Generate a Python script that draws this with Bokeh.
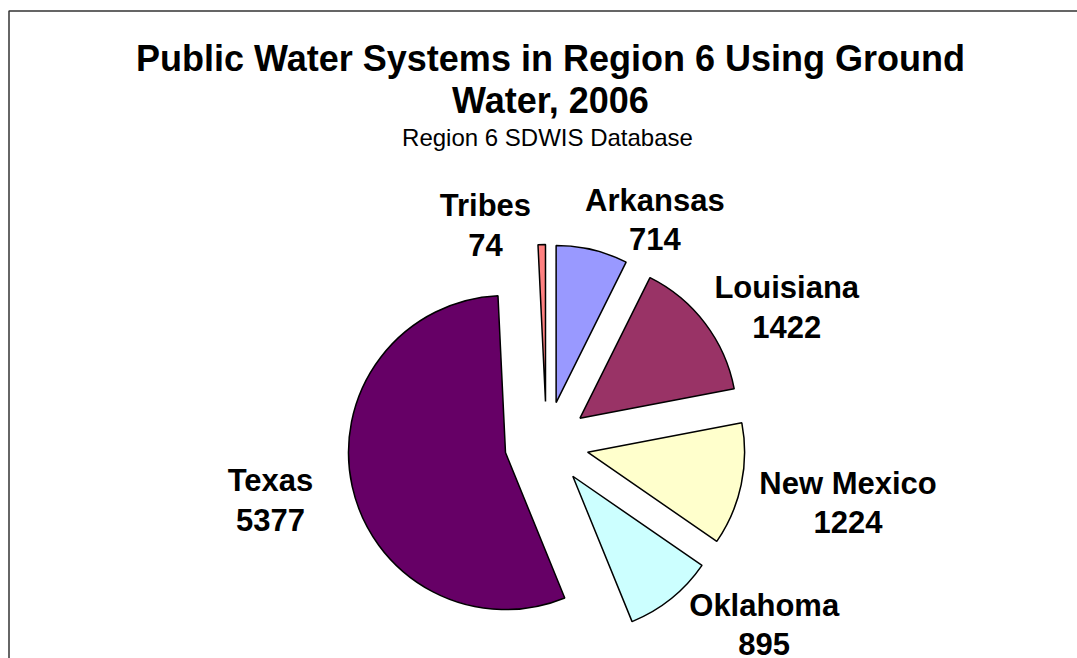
import math
from bokeh.plotting import figure
from bokeh.models import ColumnDataSource, Range1d, Label, BoxAnnotation
from bokeh.core.properties import value
from bokeh.embed import file_html
from bokeh.resources import INLINE

# ---------------- data ----------------
categories = ["Arkansas", "Louisiana", "New Mexico", "Oklahoma", "Texas", "Tribes"]
counts = [714, 1422, 1224, 895, 5377, 74]
colors = ["#9999FF", "#993366", "#FFFFCC", "#CCFFFF", "#660066", "#FF8080"]

title_lines = ["Public Water Systems in Region 6 Using Ground", "Water, 2006"]
subtitle = "Region 6 SDWIS Database"

# ---------------- layout ----------------
W, H = 1077, 658
CX, CY = 546, H - 443        # pie centre (data units = pixels, y up)
RADIUS = 157
EXPLODE = 42
LABEL_DIST = 255
LINE_GAP = 39
TEXT_SHIFT = 10              # compensate renderer baseline offset
FONT = "Liberation Sans"
# label nudges (screen px: dx right, dy down) to mimic the original placement
label_nudge = {
    "Arkansas": (50, 15),
    "Louisiana": (37, 8),
    "New Mexico": (52, -3),
    "Oklahoma": (58, -27),
    "Texas": (-27, -8),
    "Tribes": (-55, 27),
}

total = float(sum(counts))
starts, ends, xs, ys, lx, ly, vals = [], [], [], [], [], [], []
cum = 0.0
for cat, c in zip(categories, counts):
    t1 = cum / total * 2 * math.pi
    cum += c
    t2 = cum / total * 2 * math.pi
    mid = (t1 + t2) / 2
    starts.append(math.pi / 2 - t2)
    ends.append(math.pi / 2 - t1)
    xs.append(CX + EXPLODE * math.sin(mid))
    ys.append(CY + EXPLODE * math.cos(mid))
    ndx, ndy = label_nudge[cat]
    lx.append(CX + LABEL_DIST * math.sin(mid) + ndx)
    ly.append(CY + LABEL_DIST * math.cos(mid) - ndy + TEXT_SHIFT)
    vals.append(str(c))

src = ColumnDataSource(dict(
    cat=categories, val=vals, x=xs, y=ys, start=starts, end=ends,
    color=colors, lx=lx, ly=ly, vy=[v - LINE_GAP for v in ly],
))

p = figure(width=W, height=H, x_range=Range1d(0, W), y_range=Range1d(0, H),
           output_backend="svg", toolbar_location=None,
           x_axis_location=None, y_axis_location=None,
           min_border=0, min_border_left=0, min_border_right=0,
           min_border_top=0, min_border_bottom=0)
p.grid.grid_line_color = None
p.outline_line_color = None
p.background_fill_color = "white"
p.border_fill_color = "white"

# chart frame (only left and top edges are inside the window)
p.add_layout(BoxAnnotation(left=8.5, right=W + 200, top=H - 10.5, bottom=-200,
                           fill_alpha=0, line_color="#333333", line_alpha=1.0,
                           line_width=1.5))

p.wedge(x="x", y="y", radius=RADIUS, start_angle="start", end_angle="end",
        fill_color="color", line_color="black", line_width=1.5, source=src)

p.text(x="lx", y="ly", text="cat", source=src, text_align="center",
       text_baseline="alphabetic", text_font=value(FONT), text_font_style="bold",
       text_font_size="31px", text_color="black")
p.text(x="lx", y="vy", text="val", source=src, text_align="center",
       text_baseline="alphabetic", text_font=value(FONT), text_font_style="bold",
       text_font_size="31px", text_color="black")

TX = 550
for i, t in enumerate(title_lines):
    p.add_layout(Label(x=TX, y=H - 68 - 42 * i + TEXT_SHIFT, text=t, text_align="center",
                       text_baseline="alphabetic", text_font=FONT,
                       text_font_style="bold", text_font_size="36px",
                       text_color="black"))
p.add_layout(Label(x=TX - 3, y=H - 147 + TEXT_SHIFT, text=subtitle, text_align="center",
                   text_baseline="alphabetic", text_font=FONT,
                   text_font_style="normal", text_font_size="24px",
                   text_color="black"))

open("out.html", "w").write(file_html(p, INLINE))
